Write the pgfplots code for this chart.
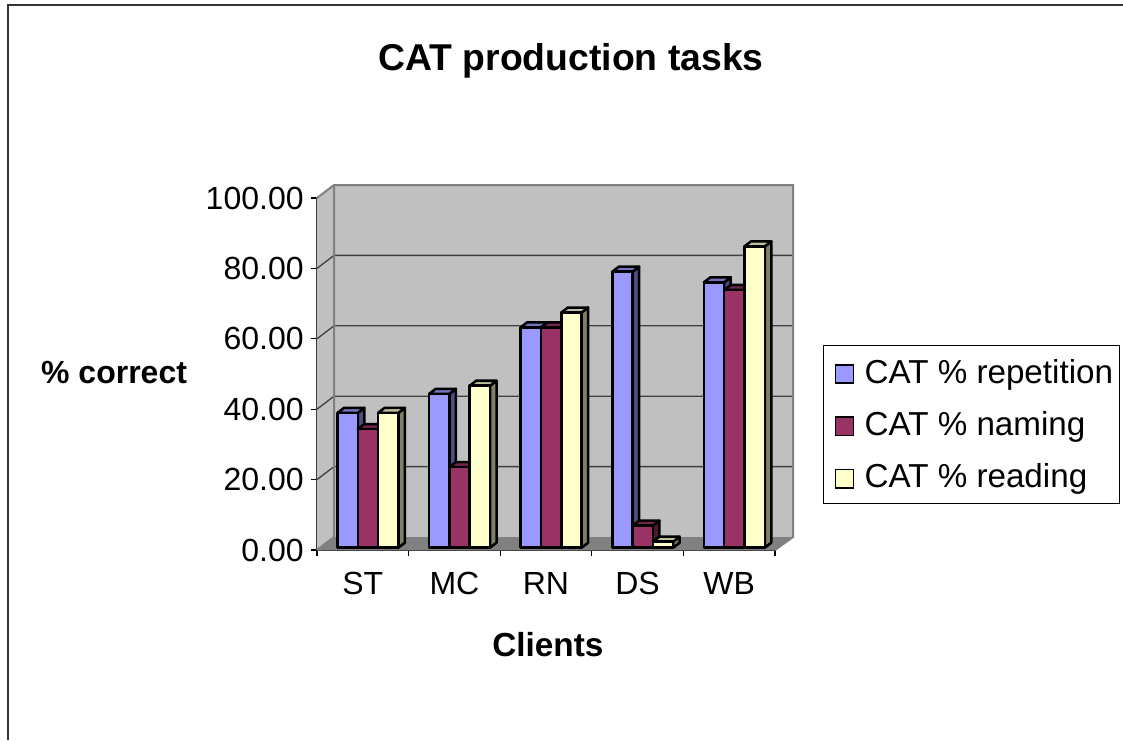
\documentclass[border=0pt]{standalone}
\usepackage{pgfplots}
\pgfplotsset{compat=1.18}
\usepackage{fontspec}
\setmainfont{Liberation Sans}
\definecolor{fronta}{HTML}{9999FF}\definecolor{sidea}{HTML}{4D4D80}\definecolor{topa}{HTML}{7373BF}
\definecolor{frontb}{HTML}{993366}\definecolor{sideb}{HTML}{4D1A33}\definecolor{topb}{HTML}{73264D}
\definecolor{frontc}{HTML}{FFFFCC}\definecolor{sidec}{HTML}{808066}\definecolor{topc}{HTML}{BFBF99}
\definecolor{wall}{HTML}{C0C0C0}\definecolor{floorc}{HTML}{808080}
% group, series index, value, series letter
\newcommand\cube[4]{%
  \pgfmathsetmacro\xa{#1+0.224+#2*0.2216}%
  \pgfmathsetmacro\xb{\xa+0.2216}%
  \pgfmathsetmacro\xc{\xb+0.071}%
  \pgfmathsetmacro\xd{\xa+0.071}%
  \pgfmathsetmacro\ya{0.66}%
  \pgfmathsetmacro\yb{0.66+#3}%
  \pgfmathsetmacro\yc{\yb+1.42}%
  \pgfmathsetmacro\yd{\ya+1.42}%
  \edef\temp{\noexpand\addplot[draw=black,line width=1.9pt,line join=round,fill=side#4,forget plot] coordinates {(\xb,\ya)(\xc,\yd)(\xc,\yc)(\xb,\yb)} -- cycle;
  \noexpand\addplot[draw=black,line width=1.9pt,line join=round,fill=top#4,forget plot] coordinates {(\xa,\yb)(\xb,\yb)(\xc,\yc)(\xd,\yc)} -- cycle;
  \noexpand\addplot[draw=black,line width=1.9pt,line join=round,fill=front#4,forget plot] coordinates {(\xa,\ya)(\xb,\ya)(\xb,\yb)(\xa,\yb)} -- cycle;}%
  \temp
}
\begin{document}
\begin{tikzpicture}
\path[use as bounding box] (0pt,0pt) rectangle (842.25pt,555pt);
\draw[color=black!80,line width=1.2pt] (6pt,0pt) -- (6pt,551.25pt) -- (842.25pt,551.25pt);
\begin{axis}[
  at={(237.75pt,142.5pt)},anchor=south west,
  scale only axis,width=343.5pt,height=264pt,
  xmin=0,xmax=5,ymin=0,ymax=100,clip=false,
  axis x line*=bottom,axis y line*=left,
  axis line style={-,color=black!75,line width=0.8pt},
  tick style={color=black,line width=0.8pt},
  tick align=outside,major tick length=4.5pt,
  xtick={0,1,2,3,4,5},xticklabels={},
  extra x ticks={0.5,1.5,2.5,3.5,4.5},
  extra x tick labels={ST,MC,RN,DS,WB},
  extra x tick style={major tick length=0pt,tick style={draw=none}},
  ytick={0,20,40,60,80,100},
  yticklabel={\pgfmathprintnumber[fixed,fixed zerofill,precision=2,assume math mode=true]{\tick}},
  tick label style={font=\fontsize{24}{26}\selectfont},
  xticklabel style={yshift=-13pt},
  yticklabel style={xshift=-2pt},
  title={\textbf{CAT production tasks}},
  title style={at={(rel axis cs:0.5546,1.367)},anchor=center,font=\fontsize{28}{30}\selectfont},
  xlabel={\textbf{Clients}},
  xlabel style={at={(rel axis cs:0.504,-0.27)},anchor=center,font=\fontsize{25}{27}\selectfont},
  ylabel={\textbf{\% correct}},
  ylabel style={at={(rel axis cs:-0.443,0.503)},rotate=-90,anchor=center,font=\fontsize{24}{26}\selectfont},
  legend style={at={(rel axis cs:1.105,0.583)},anchor=north west,draw=black,line width=0.6pt,
    font=\fontsize{24.9}{26}\selectfont,inner xsep=2.75pt,inner ysep=8.5pt,
    row sep=15.6pt,nodes={inner sep=2pt,anchor=west}},
  legend cell align=left,
]
% walls and floor
\addplot[fill=wall,draw=none,forget plot] coordinates {(0.1856,3.69)(5.197,3.69)(5.197,103.69)(0.1856,103.69)} -- cycle;
\addplot[fill=wall,draw=none,forget plot] coordinates {(0,0)(0.1856,3.69)(0.1856,103.69)(0,100)} -- cycle;
\addplot[fill=floorc,draw=none,forget plot] coordinates {(0,0)(5,0)(5.197,3.69)(0.1856,3.69)} -- cycle;
% gridlines
\addplot[color=black!75,line width=1pt,forget plot] coordinates {(0,20)(0.1856,23.69)(5.197,23.69)};
\addplot[color=black!75,line width=1pt,forget plot] coordinates {(0,40)(0.1856,43.69)(5.197,43.69)};
\addplot[color=black!75,line width=1pt,forget plot] coordinates {(0,60)(0.1856,63.69)(5.197,63.69)};
\addplot[color=black!75,line width=1pt,forget plot] coordinates {(0,80)(0.1856,83.69)(5.197,83.69)};
% wall borders
\addplot[color=floorc,line width=1.5pt,forget plot] coordinates {(0,100)(0.1856,103.69)(5.197,103.69)(5.197,3.69)(5,0)};
\addplot[color=floorc,line width=1.5pt,forget plot] coordinates {(0.1856,103.69)(0.1856,3.69)(0,0)};
% bars
\cube{0}{0}{38.3}{a}\cube{0}{1}{33.7}{b}\cube{0}{2}{38.3}{c}
\cube{1}{0}{43.7}{a}\cube{1}{1}{22.9}{b}\cube{1}{2}{46.0}{c}
\cube{2}{0}{62.6}{a}\cube{2}{1}{62.6}{b}\cube{2}{2}{66.8}{c}
\cube{3}{0}{78.4}{a}\cube{3}{1}{6.25}{b}\cube{3}{2}{1.7}{c}
\cube{4}{0}{75.4}{a}\cube{4}{1}{73.2}{b}\cube{4}{2}{85.6}{c}
% legend
\addlegendimage{legend image code/.code={\path (0pt,0pt) (25.5pt,0pt);\draw[draw=black,line width=1.3pt,fill=fronta] (6pt,-8.3pt) rectangle (19.5pt,5.3pt);}}
\addlegendentry{CAT \% repetition}
\addlegendimage{legend image code/.code={\path (0pt,0pt) (25.5pt,0pt);\draw[draw=black,line width=1.3pt,fill=frontb] (6pt,-8.3pt) rectangle (19.5pt,5.3pt);}}
\addlegendentry{CAT \% naming}
\addlegendimage{legend image code/.code={\path (0pt,0pt) (25.5pt,0pt);\draw[draw=black,line width=1.3pt,fill=frontc] (6pt,-8.3pt) rectangle (19.5pt,5.3pt);}}
\addlegendentry{CAT \% reading}
\end{axis}
\end{tikzpicture}
\end{document}
